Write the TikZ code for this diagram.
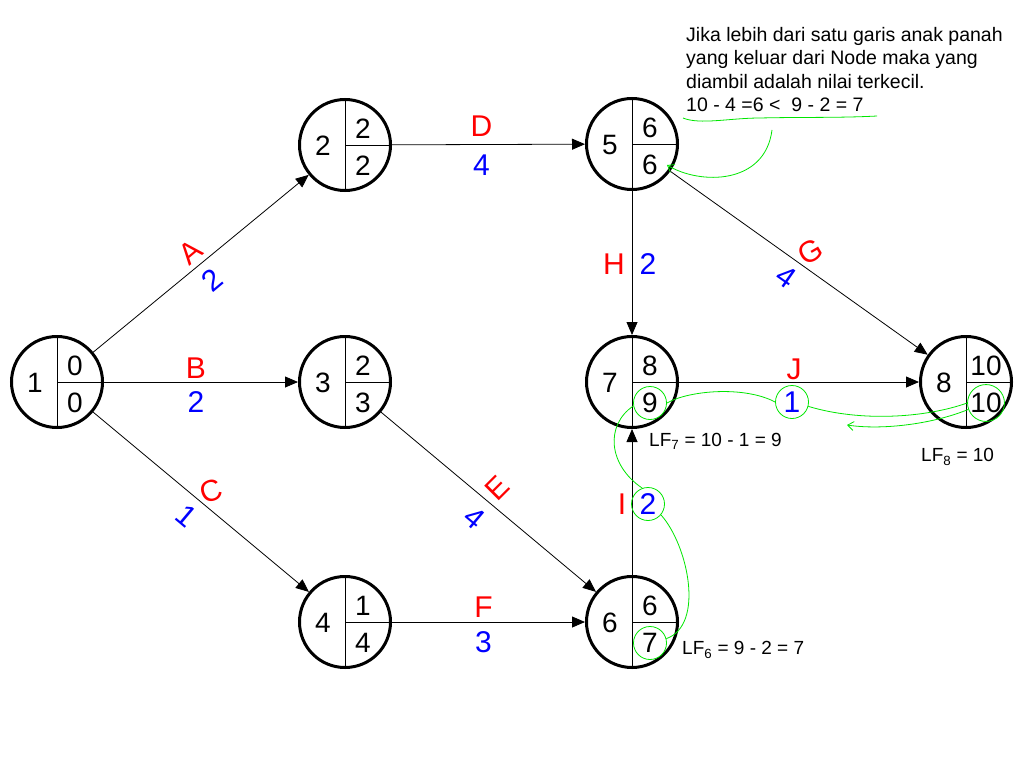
\documentclass[tikz,border=0pt]{standalone}
\usepackage{fontspec}
\setmainfont{Liberation Sans}
\usetikzlibrary{arrows.meta}
\definecolor{notegreen}{RGB}{0,230,0}

\begin{document}
\begin{tikzpicture}[x=1pt, y=-1pt, >={Triangle[length=13pt, width=11pt]},
    event/.style={circle, draw, line width=3pt, minimum size=91pt, inner sep=0pt,
        path picture={\draw[line width=1pt] (path picture bounding box.north) -- (path picture bounding box.south)
            (path picture bounding box.center) -- (path picture bounding box.east);}},
    num/.style={font=\fontsize{28}{28}\selectfont, inner sep=0pt},
    act/.style={font=\fontsize{30}{30}\selectfont, text=red, inner sep=0pt},
    dur/.style={font=\fontsize{30}{30}\selectfont, text=blue, inner sep=0pt},
    ring/.style={circle, draw=notegreen, line width=0.8pt, minimum size=33pt},
    note/.style={notegreen, line width=0.8pt},
    notearrow/.style={note, -{Straight Barb[length=6pt, width=9pt]}},
    small/.style={font=\fontsize{19}{23.5}\selectfont, inner sep=0pt},
    hinttext/.style={font=\fontsize{19.5}{23.5}\selectfont, inner sep=0pt}]
    \useasboundingbox (0,0) rectangle (1024,768);

    % events
    \node [event] (n1) at (57,382) {};
    \node [event] (n2) at (345,145) {};
    \node [event] (n3) at (345,382) {};
    \node [event] (n4) at (345,622) {};
    \node [event] (n5) at (632,144) {};
    \node [event] (n6) at (632,622) {};
    \node [event] (n7) at (632,382) {};
    \node [event] (n8) at (966,382) {};

    % number, earliest, latest
    \node [num] (n1n) at (35,383) {1};
    \node [num] (n1e) at (75,366) {0};
    \node [num] (n1l) at (75,403) {0};
    \node [num] (n2n) at (323,146) {2};
    \node [num] (n2e) at (363,129) {2};
    \node [num] (n2l) at (363,166) {2};
    \node [num] (n3n) at (323,383) {3};
    \node [num] (n3e) at (363,366) {2};
    \node [num] (n3l) at (363,403) {3};
    \node [num] (n4n) at (323,623) {4};
    \node [num] (n4e) at (363,606) {1};
    \node [num] (n4l) at (363,643) {4};
    \node [num] (n5n) at (610,145) {5};
    \node [num] (n5e) at (650,128) {6};
    \node [num] (n5l) at (650,165) {6};
    \node [num] (n6n) at (610,623) {6};
    \node [num] (n6e) at (650,606) {6};
    \node [num, ring] (n6l) at (650,643) {7};
    \node [num] (n7n) at (610,383) {7};
    \node [num] (n7e) at (650,366) {8};
    \node [num, ring] (n7l) at (650,403) {9};
    \node [num] (n8n) at (944,383) {8};
    \node [num] (n8e) at (986,366) {10};
    \node [num, ring] (n8l) at (986,403) {10};

    % activities
    \draw [->, line width=0.8pt] (n1) -- node [act, midway, xshift=-10pt, yshift=11pt, rotate=40] (la) {A}
        node [dur, midway, xshift=11pt, yshift=-17pt, rotate=40] (da) {2} (n2);
    \draw [->, line width=0.8pt] (n1) -- node [act, midway, xshift=-5pt, yshift=14pt] (lb) {B}
        node [dur, midway, xshift=-5pt, yshift=-20pt] (db) {2} (n3);
    \draw [->, line width=0.8pt] (n1) -- node [act, midway, xshift=10pt, yshift=11pt, rotate=20] (lc) {C}
        node [dur, midway, xshift=-14pt, yshift=-14pt, rotate=-40] (dc) {1} (n4);
    \draw [->, line width=0.8pt] (n2) -- node [act, midway, xshift=-7pt, yshift=18pt] (ld) {D}
        node [dur, midway, xshift=-7pt, yshift=-21pt] (dd) {4} (n5);
    \draw [->, line width=0.8pt] (n3) -- node [act, midway, xshift=9pt, yshift=14pt, rotate=45] (le) {E}
        node [dur, midway, xshift=-14pt, yshift=-16pt, rotate=-40] (de) {4} (n6);
    \draw [->, line width=0.8pt] (n4) -- node [act, midway, xshift=-5pt, yshift=15pt] (lf) {F}
        node [dur, midway, xshift=-5pt, yshift=-20pt] (df) {3} (n6);
    \draw [->, line width=0.8pt] (n5) -- node [act, midway, xshift=11pt, yshift=11pt, rotate=30] (lg) {G}
        node [dur, midway, xshift=-13pt, yshift=-14pt, rotate=-35] (dg) {4} (n8);
    \draw [->, line width=0.8pt] (n5) -- node [act, midway, xshift=-18pt, yshift=-1pt] (lh) {H}
        node [dur, midway, xshift=16pt, yshift=-1pt] (dh) {2} (n7);
    \draw [->, line width=0.8pt] (n6) -- node [act, midway, xshift=-10pt, yshift=-2pt] (li) {I}
        node [dur, ring, midway, xshift=16pt, yshift=-2pt] (di) {2} (n7);
    \draw [->, line width=0.8pt] (n7) -- node [act, midway, xshift=-5pt, yshift=13pt] (lj) {J}
        node [dur, ring, midway, xshift=-7pt, yshift=-20pt] (dj) {1} (n8);

    % notes
    \node [hinttext, anchor=north west, align=left] (hint) at (686,27)
        {Jika lebih dari satu garis anak panah\\yang keluar dari Node maka yang\\diambil adalah nilai terkecil.\\10 - 4 =6 <\ \ 9 - 2 = 7};
    \node [small, anchor=west] (lf7) at (649,441) {LF\textsubscript{7} = 10 - 1 = 9};
    \node [small, anchor=west] (lf6) at (682,650) {LF\textsubscript{6} = 9 - 2 = 7};
    \node [small, anchor=west] (lf8) at (921,457) {LF\textsubscript{8} = 10};

    \draw [note] (683,118) .. controls (700,125) and (730,118) .. (760,118) .. controls (800,117) and (840,118) .. (877,116);
    \coordinate (hintstart) at (772,130);
    \draw [notearrow] (hintstart) .. controls (765,185) and (700,185) .. ([xshift=9pt]n5l.east);

    \coordinate (lf8back) at (847,425);
    \draw [note] (dj.-15) .. controls (860,422) and (925,418) .. (n8l.west);
    \draw [notearrow] (n8l.200) .. controls (930,425) and (880,430) .. (lf8back);
    \draw [note] (dj.west) .. controls (745,386) and (690,390) .. (n7l.east);
    \draw [note] (n7l.190) .. controls (605,425) and (608,465) .. (di.110);
    \draw [note] (di.-40) .. controls (688,545) and (705,625) .. (n6l.15);
\end{tikzpicture}
\end{document}
